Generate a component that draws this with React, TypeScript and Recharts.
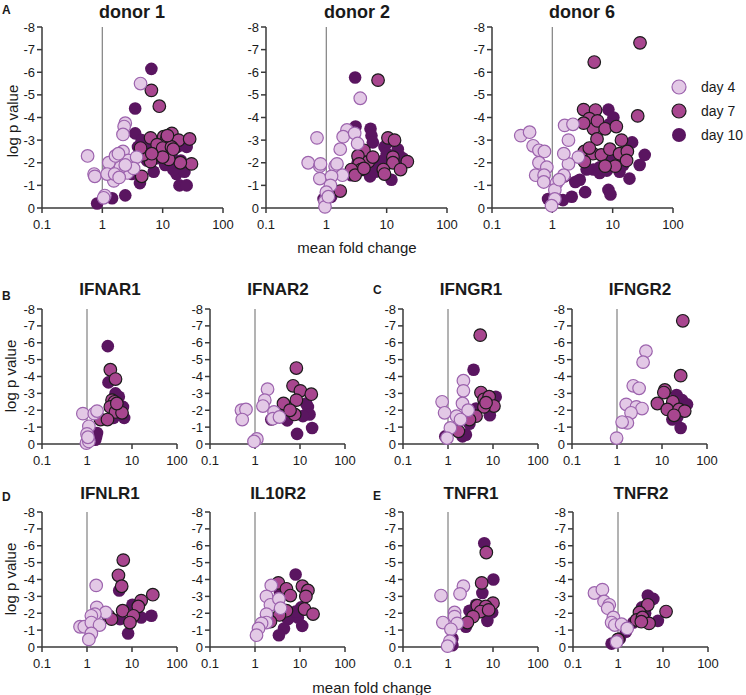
import React from 'react';
import { ScatterChart, Scatter, XAxis, YAxis, ReferenceLine } from 'recharts';

type P = { x: number; y: number };
const pts = (a: number[][]): P[] => a.map(([x, y]) => ({ x, y }));

const X_TICKS = [0.1, 1, 10, 100];
const Y_TICKS = [-8, -7, -6, -5, -4, -3, -2, -1, 0];
const SERIES_NAMES = ['day 4', 'day 7', 'day 10'];

// ---- donor panels ----
const donor1Day4 = pts([[4.3,-5.5],[2.4,-3.75],[2.3,-3.6],[2.2,-3.25],[0.57,-2.3],[0.73,-1.5],[0.75,-1.4],[1.1,-0.55],[1.05,-0.45],[1.55,-1.2],[1.35,-1.75],[1.75,-2.2],[2.2,-2.5],[2.7,-2.1],[2.6,-1.55],[3.7,-2.25],[3.3,-1.75],[2.0,-1.8],[1.28,-2.0],[1.65,-2.3],[1.85,-2.4],[1.2,-1.5],[1.6,-1.5],[2.4,-1.9],[1.9,-1.35]]);
const donor1Day7 = pts([[6.5,-5.2],[8.8,-4.5],[6.3,-3.1],[14.2,-3.3],[10.4,-3.15],[11.8,-3.1],[8.1,-2.8],[18.4,-3.0],[28,-3.05],[30,-1.95],[19.6,-2.0],[12.6,-2.15],[10,-2.65],[10,-2.25],[14,-2.7],[4.5,-1.4],[6.3,-2.05],[4.8,-2.35],[4.3,-2.65],[6.6,-2.4],[15,-2.6],[12,-3.2]]);
const donor1Day10 = pts([[6.5,-6.15],[3.5,-4.4],[0.82,-0.2],[1.45,-0.43],[2.4,-0.56],[3.5,-3.3],[3.9,-2.7],[4.2,-1.1],[7.1,-1.6],[17.5,-2.7],[25,-2.7],[19,-1.0],[25,-1.0],[17,-1.5],[23,-1.6],[12,-2.0],[5.5,-2.1],[3.1,-1.5],[9,-2.4],[14,-2.3],[11,-1.9],[15,-1.7],[20,-2.1],[6,-2.8],[4.5,-3.0],[8,-2.2],[13,-2.8],[16,-2.0]]);

const donor2Day4 = pts([[3.65,-4.85],[0.7,-3.1],[2.2,-3.45],[1.9,-3.15],[2.95,-3.3],[3.3,-2.85],[1.7,-2.6],[0.5,-2.0],[0.78,-1.85],[0.8,-1.95],[0.78,-1.3],[1.4,-1.85],[1.5,-1.95],[1.85,-1.45],[1.22,-1.4],[1.17,-1.0],[1.0,-0.7],[0.95,-0.3],[0.95,-0.05],[1.08,-0.5]]);
const donor2Day7 = pts([[7.2,-5.65],[10.5,-3.1],[13.5,-3.0],[4.2,-2.55],[3.35,-2.3],[12.7,-2.25],[12.7,-2.0],[22,-2.05],[17,-1.7],[8.8,-1.7],[9.2,-1.5],[5,-2.05],[5.9,-2.25],[3.5,-1.95],[3.75,-1.7],[2.6,-1.7],[3.0,-1.45],[1.7,-0.75],[4.2,-1.75]]);
const donor2Day10 = pts([[3.0,-5.77],[3.05,-3.6],[5.4,-3.5],[5.6,-3.2],[5.9,-2.9],[9.2,-2.7],[10.4,-2.9],[12,-2.25],[16.3,-2.3],[18.5,-2.2],[12,-1.25],[5.3,-1.4],[4.4,-1.7],[2.6,-1.45],[0.9,-0.4],[1.2,-0.5],[3.3,-2.0],[7.3,-1.8],[8.7,-2.1],[15.3,-2.6],[6.5,-1.6],[10,-2.4]]);

const donor6Day4 = pts([[0.3,-3.2],[0.42,-3.35],[0.48,-2.75],[0.6,-2.55],[0.74,-2.5],[0.6,-2.0],[0.81,-1.8],[0.53,-1.45],[0.73,-1.45],[0.72,-1.15],[1.6,-3.65],[2.2,-3.7],[1.85,-3.0],[2.7,-2.25],[1.85,-1.95],[1.55,-2.4],[1.55,-1.45],[1.17,-1.1],[1.1,-0.8],[1.1,-0.4],[0.97,-0.1],[1.3,-1.25]]);
const donor6Day7 = pts([[28.4,-7.3],[4.95,-6.45],[26,-4.07],[3.3,-4.35],[5.2,-4.33],[4.1,-3.95],[4.8,-3.5],[5.6,-3.85],[7.5,-3.5],[11.5,-3.6],[14,-3.0],[5.5,-3.05],[3.4,-2.5],[4.7,-2.4],[6.5,-2.35],[9,-2.6],[13,-2.4],[17.5,-2.5],[17,-2.1],[11,-1.85],[7.5,-1.85],[3.4,-2.05],[4.1,-2.65],[3.3,-3.75]]);
const donor6Day10 = pts([[8.5,-4.35],[10.3,-4.0],[8.8,-3.7],[21,-2.9],[34,-2.35],[28,-1.9],[19,-1.3],[8.5,-0.8],[9.2,-0.6],[3.5,-0.7],[2.1,-0.5],[2.85,-1.25],[2.4,-1.15],[1.5,-0.35],[1.17,-0.4],[0.85,-0.4],[4.8,-1.7],[6.1,-1.55],[8,-1.65],[13,-1.6],[6.1,-1.8],[10.5,-2.0],[3.7,-1.7],[1.6,-1.4],[15,-1.9],[9.5,-2.2]]);

// ---- receptor panels ----
const ifnar1Day4 = pts([[0.81,-1.8],[1.45,-1.8],[1.67,-1.95],[1.1,-1.05],[1.0,-0.6],[0.97,-0.05],[1.1,-0.15],[1.05,-0.4]]);
const ifnar1Day7 = pts([[3.3,-4.4],[4.3,-3.85],[3.6,-2.6],[4.1,-2.5],[3.3,-2.2],[4.3,-1.9],[6,-1.85],[2.0,-1.45],[2.85,-1.45],[4.6,-2.4]]);
const ifnar1Day10 = pts([[2.9,-5.8],[3.0,-3.65],[4.3,-3.0],[5.1,-2.8],[6.3,-2.2],[6.7,-1.55],[1.67,-0.65],[1.53,-0.25],[3.9,-1.55],[1.6,-0.45]]);

const ifnar2Day4 = pts([[1.9,-3.25],[1.65,-2.6],[1.5,-2.25],[0.5,-2.0],[0.63,-2.05],[0.52,-1.45],[2.65,-1.9],[2.5,-1.5],[3.5,-1.6],[1.1,-0.3],[0.95,-0.15]]);
const ifnar2Day7 = pts([[8.3,-4.5],[7,-3.45],[10.2,-3.15],[17.8,-2.95],[8.3,-2.6],[4.3,-2.4],[7.6,-1.75],[6,-2.0]]);
const ifnar2Day10 = pts([[13.7,-2.4],[15,-2.2],[16.3,-1.75],[11.6,-1.65],[5.2,-1.4],[18.6,-0.95],[8.6,-0.6],[2.3,-1.45],[3.6,-1.9]]);

const ifngr1Day4 = pts([[0.74,-2.5],[0.84,-1.85],[2.2,-3.75],[2.2,-3.15],[2.1,-2.4],[2.8,-2.0],[1.55,-1.65],[1.13,-0.95],[0.95,-0.35],[1.9,-1.45]]);
const ifngr1Day7 = pts([[5.2,-6.45],[5.4,-3.05],[6.3,-2.65],[8.2,-2.8],[10.5,-2.25],[6.3,-2.2],[4.2,-1.65],[3,-1.45],[1.7,-0.75],[7,-2.45]]);
const ifngr1Day10 = pts([[3.7,-4.4],[11.5,-2.8],[8.5,-1.7],[2.5,-0.55],[2.1,-0.45],[3,-1.2],[4.2,-2.1],[0.87,-0.45]]);

const ifngr2Day4 = pts([[4.4,-5.5],[3.8,-4.85],[2.3,-3.45],[3.1,-3.3],[1.6,-2.35],[2.7,-2.2],[3.6,-2.1],[2.05,-1.85],[1.7,-1.25],[1.3,-1.3],[0.98,-0.35]]);
const ifngr2Day7 = pts([[29,-7.3],[26,-4.05],[11.6,-3.2],[11,-3.05],[7.9,-2.4],[17.4,-2.5],[13.1,-2.05],[24,-2.05],[32,-1.95],[18.5,-1.7]]);
const ifngr2Day10 = pts([[21,-2.9],[28,-2.6],[36,-2.35],[17,-1.45],[26,-0.95],[22,-1.6]]);

const ifnlr1Day4 = pts([[1.6,-3.65],[1.65,-2.35],[2.6,-2.05],[1.5,-1.95],[1.25,-1.85],[0.7,-1.2],[0.87,-1.2],[1.25,-1.45],[1.9,-1.3],[1.25,-0.8],[1.1,-0.45]]);
const ifnlr1Day7 = pts([[6.4,-5.15],[5,-4.25],[5.9,-3.6],[29,-3.1],[16,-2.75],[13.8,-2.4],[6.2,-2.15],[10.7,-1.85],[9.0,-1.45],[3,-1.85],[3.5,-1.65]]);
const ifnlr1Day10 = pts([[5.2,-3.35],[10.2,-2.5],[27,-1.85],[16,-1.75],[8.2,-0.8],[5.4,-1.65]]);

const il10r2Day4 = pts([[2.3,-3.65],[1.8,-3.0],[2.2,-2.5],[3.4,-2.85],[3.7,-2.3],[1.8,-1.95],[1.8,-1.45],[1.4,-1.4],[1.2,-1.1],[1.08,-0.7]]);
const il10r2Day7 = pts([[3.3,-3.8],[5,-3.45],[11.3,-3.6],[15,-3.35],[13.5,-3.0],[6.1,-3.05],[12.6,-2.25],[19.5,-1.95],[5,-2.15],[3.5,-1.9],[2.2,-1.5]]);
const il10r2Day10 = pts([[8.0,-4.3],[3.6,-3.2],[10.6,-2.35],[7,-1.85],[9.0,-1.75],[5.4,-1.65],[11.2,-1.25],[4.4,-1.1],[3.4,-0.7],[8,-2.1]]);

const tnfr1Day4 = pts([[0.7,-3.05],[2.2,-3.6],[1.85,-3.15],[1.4,-2.05],[1.4,-1.8],[0.77,-1.45],[1.6,-1.4],[1.16,-1.05],[1.1,-0.35],[0.98,-0.05]]);
const tnfr1Day7 = pts([[7.1,-5.6],[5.6,-3.8],[10,-2.6],[4.5,-2.45],[6.9,-2.4],[5.3,-2.1],[3.6,-1.8],[2.7,-1.45],[8,-2.2]]);
const tnfr1Day10 = pts([[6.4,-6.15],[10.2,-4.0],[5.8,-3.2],[3.0,-2.15],[7.5,-1.55],[2.5,-1.2],[1.25,-0.5],[1.25,-0.1],[9.6,-2.05],[4.2,-2.5]]);

const tnfr2Day4 = pts([[0.3,-3.2],[0.45,-3.4],[0.49,-2.7],[0.64,-2.5],[0.59,-2.3],[0.79,-1.75],[0.72,-1.45],[0.85,-1.3],[1.2,-1.35],[1.6,-1.1],[0.93,-0.3]]);
const tnfr2Day7 = pts([[11.7,-2.1],[4.6,-2.5],[3.0,-2.05],[2.6,-1.6],[3.5,-1.75],[4.9,-1.4],[3.3,-1.5],[1.0,-0.45]]);
const tnfr2Day10 = pts([[4.6,-3.05],[6.1,-2.85],[3.4,-2.35],[7.7,-1.55],[0.72,-0.2],[1.5,-0.9],[2.2,-1.45],[1.1,-0.5],[4,-2.0]]);

const C4 = { fill: '#e3c9e6', stroke: '#9c63ad' };
const C7 = { fill: '#a8468f', stroke: '#1b1b1b' };
const C10 = { fill: '#5a1560', stroke: 'none' };
const R = 6.3;
const FONT = '"Liberation Sans", Arial, Helvetica, sans-serif';

const dot = (c: { fill: string; stroke: string }) => (p: any) => (
  <circle cx={p.cx} cy={p.cy} r={R} fill={c.fill} stroke={c.stroke} strokeWidth={1.2} />
);

const Y_W = 32;
const X_H = 34;
const M_TOP = 8;
const M_RIGHT = 16;

function Panel({ left, top, w, h, d4, d7, d10 }: { left: number; top: number; w: number; h: number; d4: P[]; d7: P[]; d10: P[] }) {
  const axisStyle = { stroke: '#3a3a3a', strokeWidth: 1.5 };
  const tick = { fill: '#1a1a1a', fontSize: 13, fontFamily: FONT };
  return (
    <div style={{ position: 'absolute', left: left - Y_W, top: top - M_TOP }}>
      <ScatterChart width={Y_W + w + M_RIGHT} height={M_TOP + h + X_H} margin={{ top: M_TOP, right: M_RIGHT, bottom: 0, left: 0 }}>
        <XAxis type="number" dataKey="x" scale="log" domain={[0.1, 100]} ticks={X_TICKS} interval={0} height={X_H}
          tick={tick} tickLine={axisStyle} axisLine={axisStyle} tickSize={5} tickMargin={7} tickFormatter={(v: number) => String(v)} />
        <YAxis type="number" dataKey="y" domain={[-8, 0]} ticks={Y_TICKS} interval={0} reversed width={Y_W}
          tick={tick} tickLine={axisStyle} axisLine={axisStyle} tickSize={5} />
        <ReferenceLine x={1} stroke="#8a8a8a" strokeWidth={1.3} />
        <Scatter data={d10} shape={dot(C10)} isAnimationActive={false} />
        <Scatter data={d7} shape={dot(C7)} isAnimationActive={false} />
        <Scatter data={d4} shape={dot(C4)} isAnimationActive={false} />
      </ScatterChart>
    </div>
  );
}

function Txt({ x, y, size, bold, children, rotate, anchor }: { x: number; y: number; size: number; bold?: boolean; children: React.ReactNode; rotate?: boolean; anchor?: string }) {
  return (
    <div style={{
      position: 'absolute', left: x, top: y, fontSize: size, fontWeight: bold ? 700 : 400, whiteSpace: 'nowrap',
      transform: `translate(${anchor === 'start' ? '0' : '-50%'}, -50%)${rotate ? ' rotate(-90deg)' : ''}`,
      lineHeight: 1, color: '#1a1a1a',
    }}>{children}</div>
  );
}

export default function App() {
  const big = 181;
  const small = 135;
  return (
    <div style={{ position: 'absolute', left: 0, top: 0, width: 746, height: 695, background: '#fff', fontFamily: FONT, overflow: 'hidden' }}>
      <Panel left={42} top={27} w={big} h={big} d4={donor1Day4} d7={donor1Day7} d10={donor1Day10} />
      <Panel left={266} top={27} w={big} h={big} d4={donor2Day4} d7={donor2Day7} d10={donor2Day10} />
      <Panel left={492} top={27} w={big} h={big} d4={donor6Day4} d7={donor6Day7} d10={donor6Day10} />

      <Panel left={42} top={309} w={small} h={small} d4={ifnar1Day4} d7={ifnar1Day7} d10={ifnar1Day10} />
      <Panel left={210} top={309} w={small} h={small} d4={ifnar2Day4} d7={ifnar2Day7} d10={ifnar2Day10} />
      <Panel left={403} top={309} w={small} h={small} d4={ifngr1Day4} d7={ifngr1Day7} d10={ifngr1Day10} />
      <Panel left={572} top={309} w={small} h={small} d4={ifngr2Day4} d7={ifngr2Day7} d10={ifngr2Day10} />

      <Panel left={42} top={512} w={small} h={small} d4={ifnlr1Day4} d7={ifnlr1Day7} d10={ifnlr1Day10} />
      <Panel left={210} top={512} w={small} h={small} d4={il10r2Day4} d7={il10r2Day7} d10={il10r2Day10} />
      <Panel left={403} top={512} w={small} h={small} d4={tnfr1Day4} d7={tnfr1Day7} d10={tnfr1Day10} />
      <Panel left={573} top={512} w={small} h={small} d4={tnfr2Day4} d7={tnfr2Day7} d10={tnfr2Day10} />

      <Txt x={132} y={12} size={18} bold>donor 1</Txt>
      <Txt x={357} y={12} size={18} bold>donor 2</Txt>
      <Txt x={582} y={12} size={18} bold>donor 6</Txt>
      <Txt x={110} y={289} size={17} bold>IFNAR1</Txt>
      <Txt x={278} y={289} size={17} bold>IFNAR2</Txt>
      <Txt x={471} y={289} size={17} bold>IFNGR1</Txt>
      <Txt x={640} y={289} size={17} bold>IFNGR2</Txt>
      <Txt x={110} y={493} size={17} bold>IFNLR1</Txt>
      <Txt x={278} y={493} size={17} bold>IL10R2</Txt>
      <Txt x={471} y={493} size={17} bold>TNFR1</Txt>
      <Txt x={641} y={493} size={17} bold>TNFR2</Txt>

      <Txt x={2} y={10} size={12} bold anchor="start">A</Txt>
      <Txt x={2} y={296} size={12} bold anchor="start">B</Txt>
      <Txt x={373} y={290} size={12} bold anchor="start">C</Txt>
      <Txt x={2} y={497} size={12} bold anchor="start">D</Txt>
      <Txt x={373} y={496} size={12} bold anchor="start">E</Txt>

      <Txt x={12} y={121} size={15} rotate>log p value</Txt>
      <Txt x={10} y={376} size={15} rotate>log p value</Txt>
      <Txt x={10} y={579} size={15} rotate>log p value</Txt>
      <Txt x={357} y={247} size={15}>mean fold change</Txt>
      <Txt x={372} y={687} size={15}>mean fold change</Txt>

      <svg style={{ position: 'absolute', left: 668, top: 74 }} width={78} height={74}>
        {[C4, C7, C10].map((c, i) => (
          <g key={i}>
            <circle cx={11} cy={13 + i * 24} r={7} fill={c.fill} stroke={c.stroke} strokeWidth={1.2} />
            <text x={33} y={13 + i * 24} dominantBaseline="central" fontSize={14} fill="#1a1a1a" fontFamily={FONT}>{SERIES_NAMES[i]}</text>
          </g>
        ))}
      </svg>
    </div>
  );
}
